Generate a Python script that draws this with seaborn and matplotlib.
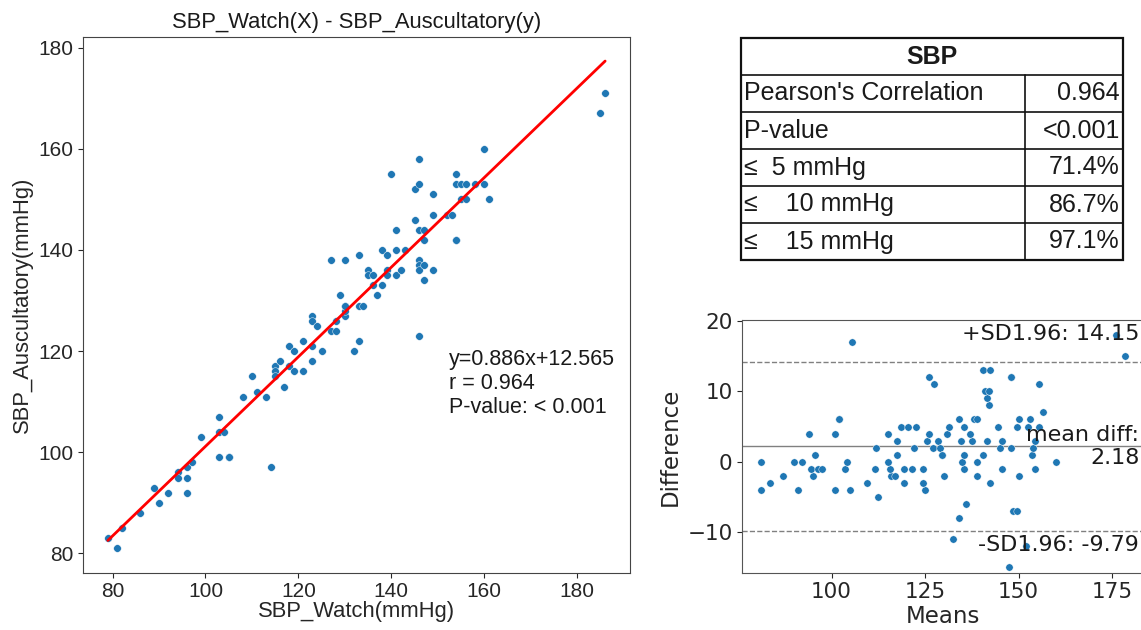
import numpy as np
import pandas as pd
import matplotlib
matplotlib.use("Agg")
import matplotlib.pyplot as plt
from matplotlib.patches import Rectangle
import seaborn as sns

# paired SBP readings (mmHg)
watch_sbp = [79, 81, 82, 86, 89, 90, 92, 94, 94, 96, 96, 96, 97, 99, 103, 103, 103, 104, 105, 105,
             108, 110, 111, 113, 114, 115, 115, 115, 116, 117, 118, 118, 119, 119, 121, 121, 123, 123, 123, 123,
             124, 125, 127, 127, 128, 128, 129, 130, 130, 130, 130, 130, 132, 133, 133, 133, 134, 135, 135, 136,
             136, 137, 138, 138, 139, 139, 139, 140, 141, 141, 141, 142, 143, 145, 145, 146, 146, 146, 146, 146,
             146, 146, 147, 147, 147, 147, 149, 149, 149, 152, 153, 154, 154, 154, 154, 155, 155, 156, 156, 158,
             160, 160, 161, 185, 186]
ausc_sbp = [83, 81, 85, 88, 93, 90, 92, 96, 95, 97, 95, 92, 98, 103, 107, 104, 99, 104, 99, 99,
            111, 115, 112, 111, 97, 117, 116, 115, 118, 113, 121, 117, 120, 116, 122, 116, 121, 118, 127, 126,
            125, 120, 124, 138, 124, 126, 131, 127, 128, 129, 129, 138, 120, 122, 129, 139, 129, 136, 135, 133,
            135, 131, 133, 140, 136, 135, 139, 155, 135, 140, 144, 136, 140, 146, 152, 138, 137, 136, 144, 153,
            158, 123, 137, 134, 144, 142, 136, 147, 151, 147, 147, 142, 142, 153, 155, 153, 150, 153, 150, 153,
            153, 160, 150, 167, 171]

# fit / agreement stats printed on the chart
slope, intercept = 0.886, 12.565
r_value = 0.964
p_text = "< 0.001"
mean_diff, sd_upper, sd_lower = 2.18, 14.15, -9.79
sd_limit = 1.96
ba_xticks = [100, 125, 150, 175]

table_title = "SBP"
table_labels = ["Pearson's Correlation", "P-value", "\u2264  5 mmHg", "\u2264    10 mmHg", "\u2264    15 mmHg"]
table_values = ["0.964", "<0.001", "71.4%", "86.7%", "97.1%"]

sns.set_style("ticks")
plt.rcParams["font.family"] = ["Liberation Sans", "DejaVu Sans"]
plt.rcParams["text.color"] = "#1a1a1a"

W, H = 1141, 630
fig = plt.figure(figsize=(W / 100, H / 100), dpi=100)

df = pd.DataFrame({"watch": watch_sbp, "ausc": ausc_sbp})
df["means"] = (df["watch"] + df["ausc"]) / 2
df["diff"] = df["watch"] - df["ausc"]

# --- left: scatter with regression line
ax = fig.add_axes([83 / W, 1 - 572.7 / H, (630 - 83) / W, (572.7 - 36.7) / H])
sns.scatterplot(data=df, x="watch", y="ausc", ax=ax, s=30, color="#1f77b4",
                edgecolor="white", linewidth=0.3, zorder=3)
xs = np.array([df["watch"].min(), df["watch"].max()], dtype=float)
sns.lineplot(x=xs, y=slope * xs + intercept, ax=ax, color="red", linewidth=2, zorder=4)
ax.set_title("SBP_Watch(X) - SBP_Auscultatory(y)", fontsize=15.8)
ax.set_xlabel("SBP_Watch(mmHg)", fontsize=15.8, labelpad=0)
ax.set_ylabel("SBP_Auscultatory(mmHg)", fontsize=15.8)
ax.tick_params(labelsize=15)
ax.text(0.669, 0.418, f"y={slope}x+{intercept}\nr = {r_value}\nP-value: {p_text}",
        transform=ax.transAxes, va="top", ha="left", fontsize=15.5)
for s in ax.spines.values():
    s.set_color("#444444")

# --- right top: summary table
tl, tr = 741, 1123
tax = fig.add_axes([tl / W, 1 - 260 / H, (tr - tl) / W, (260 - 38) / H])
tax.set_xlim(0, 1)
tax.set_ylim(0, 1)
tax.axis("off")
nrow = len(table_labels) + 1
split = (1025 - tl) / (tr - tl)
tax.add_patch(Rectangle((0, 0), 1, 1, fill=False, lw=1.6, ec="#111111", clip_on=False))
for k in range(1, nrow):
    tax.plot([0, 1], [k / nrow, k / nrow], color="#111111", lw=1.2)
tax.plot([split, split], [0, (nrow - 1) / nrow], color="#111111", lw=1.2)
tax.text(0.5, 1 - 0.5 / nrow, table_title, ha="center", va="center", fontsize=18, fontweight="bold")
for i, (lab, val) in enumerate(zip(table_labels, table_values)):
    yc = 1 - (i + 1.5) / nrow
    tax.text(0.008, yc, lab, ha="left", va="center", fontsize=18)
    tax.text(0.992, yc, val, ha="right", va="center", fontsize=18)

# --- right bottom: Bland-Altman
bax = fig.add_axes([742.3 / W, 1 - 572.7 / H, (W - 742.3) / W + 0.002, (572.7 - 320) / H])
sns.scatterplot(data=df, x="means", y="diff", ax=bax, s=28, color="#1f77b4",
                edgecolor="white", linewidth=0.3, zorder=3)
bax.axhline(mean_diff, color="gray", lw=1)
bax.axhline(sd_upper, color="gray", lw=1, ls="--")
bax.axhline(sd_lower, color="gray", lw=1, ls="--")
half = 1.5 * (sd_upper - mean_diff)
bax.set_ylim(mean_diff - half, mean_diff + half)
bax.set_xticks(ba_xticks)
dj = "DejaVu Sans"
bax.set_xlabel("Means", fontsize=16.5, family=dj, labelpad=2)
bax.set_ylabel("Difference", fontsize=16.5, family=dj)
bax.tick_params(labelsize=15.5, labelfontfamily=dj)
bax.text(0.99, 0.92, f"+SD{sd_limit}: {sd_upper}", transform=bax.transAxes,
         ha="right", fontsize=16, family=dj)
bax.annotate(f"mean diff:\n{mean_diff}", xy=(0.99, mean_diff), xycoords=("axes fraction", "data"),
             ha="right", va="center", fontsize=16, family=dj)
bax.text(0.99, 0.07, f"-SD{sd_limit}: {sd_lower}", transform=bax.transAxes,
         ha="right", va="bottom", fontsize=16, family=dj)
bax.spines["right"].set_visible(False)
for s in bax.spines.values():
    s.set_color("#555555")

fig.savefig("out.png", dpi=100)
